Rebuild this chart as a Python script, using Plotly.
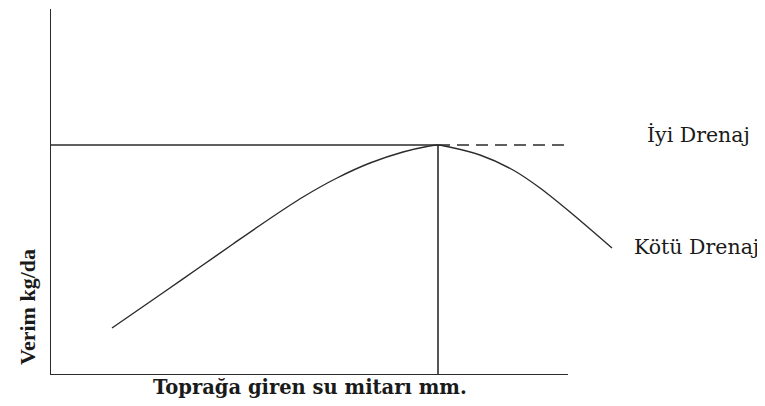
import plotly.graph_objects as go

# Data (arbitrary units: water entering the soil vs yield)
curve_x = [12.4, 23.4, 30, 36.6, 44, 50.6, 57.4, 64, 70.6, 75.4, 77.6, 79.4, 86, 92.6, 98, 104, 112.4]
curve_y = [9.4, 17.0, 21.6, 26.2, 31.3, 35.6, 39.4, 42.4, 44.6, 45.7, 46, 45.7, 44, 41, 37.4, 32.6, 25.4]
peak_x = 77.6
peak_y = 46
dash_end_x = 103.4
axis_x_end = 103.6
axis_y_end = 73.2

x_title = "Toprağa giren su mitarı mm."
y_title = "Verim kg/da"
label_good = "İyi Drenaj"
label_bad = "Kötü Drenaj"

ink = "#2b2b2b"
fig = go.Figure()

# axes
fig.add_trace(go.Scatter(x=[0, 0], y=[axis_y_end, 0], mode="lines",
                         line=dict(color=ink, width=2), hoverinfo="skip"))
fig.add_trace(go.Scatter(x=[0, axis_x_end], y=[0, 0], mode="lines",
                         line=dict(color=ink, width=2), hoverinfo="skip"))
# horizontal reference (solid) and dashed continuation
fig.add_trace(go.Scatter(x=[0, peak_x], y=[peak_y, peak_y], mode="lines",
                         line=dict(color=ink, width=1.6), hoverinfo="skip"))
fig.add_trace(go.Scatter(x=[peak_x, dash_end_x], y=[peak_y, peak_y], mode="lines",
                         line=dict(color=ink, width=1.6, dash="12px,7px"), hoverinfo="skip"))
# vertical at peak
fig.add_trace(go.Scatter(x=[peak_x, peak_x], y=[peak_y, 0], mode="lines",
                         line=dict(color=ink, width=1.6), hoverinfo="skip"))
# yield curve
fig.add_trace(go.Scatter(x=curve_x, y=curve_y, mode="lines", line_shape="spline",
                         line=dict(color=ink, width=1.4, smoothing=0.8), hoverinfo="skip"))

lab_font = dict(family="DejaVu Serif", size=20.5, color="#1a1a1a")
fig.add_annotation(x=119, y=48, xref="x", yref="y", text=label_good, showarrow=False,
                   xanchor="left", yanchor="middle", font=lab_font)
fig.add_annotation(x=116.4, y=25.6, xref="x", yref="y", text=label_bad, showarrow=False,
                   xanchor="left", yanchor="middle", font=lab_font)
fig.add_annotation(x=0.363, y=-0.0355, xref="paper", yref="paper", text="<b>" + x_title + "</b>",
                   showarrow=False, xanchor="center", yanchor="middle",
                   font=dict(family="DejaVu Serif", size=19.5, color="#1a1a1a"))
fig.add_annotation(x=-0.0308, y=0.186, xref="paper", yref="paper", text="<b>" + y_title + "</b>",
                   showarrow=False, xanchor="center", yanchor="middle", textangle=-90,
                   font=dict(family="Liberation Serif", size=22, color="#1a1a1a"))

# page body has an 8px margin, so the figure is shifted accordingly
fig.update_layout(
    width=757, height=398,
    margin=dict(l=42, r=0, t=1, b=31),
    paper_bgcolor="white", plot_bgcolor="white",
    showlegend=False,
    xaxis=dict(range=[0, 143], visible=False, fixedrange=True),
    yaxis=dict(range=[0, 73.2], visible=False, fixedrange=True),
)
fig.write_html("out.html")
